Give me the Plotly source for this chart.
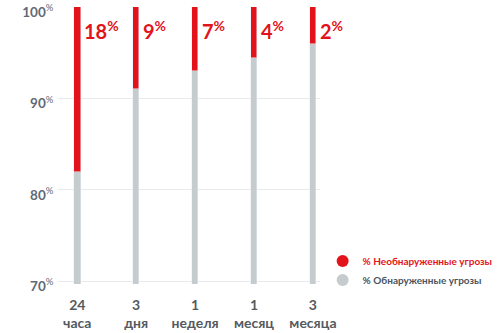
import plotly.graph_objects as go

categories = ["24<br>часа", "3<br>дня", "1<br>неделя", "1<br>месяц", "3<br>месяца"]
detected = [82, 91, 93, 94.5, 96]          # % обнаруженные (top of grey segment)
undetected = [18, 9, 7, 5.5, 4]             # red segment height as drawn
undetected_labels = ["18", "9", "7", "4", "2"]
y_ticks = [70, 80, 90, 100]

RED = "#e3131b"
GREY = "#c6cbce"
FONT = "Lato, 'Open Sans', sans-serif"

xs = list(range(len(categories)))

fig = go.Figure()
fig.add_trace(go.Bar(x=xs, y=detected, marker_color=GREY, width=0.11,
                     showlegend=False, hoverinfo="skip"))
fig.add_trace(go.Bar(x=xs, y=undetected, marker_color=RED, width=0.11,
                     showlegend=False, hoverinfo="skip"))

# legend dummies
fig.add_trace(go.Scatter(x=[None], y=[None], mode="markers",
                         marker=dict(color=RED, size=11, symbol="circle"),
                         name="<b><span style='color:%s'>%% Необнаруженные угрозы</span></b>" % RED))
fig.add_trace(go.Scatter(x=[None], y=[None], mode="markers",
                         marker=dict(color=GREY, size=11, symbol="circle"),
                         name="<b><span style='color:#4a5560'>% Обнаруженные угрозы</span></b>"))

for i, lab in enumerate(undetected_labels):
    fig.add_annotation(x=xs[i], y=100, xref="x", yref="y", xanchor="left", yanchor="top",
                       xshift=5, yshift=-8, showarrow=False,
                       text="<b>%s</b><sup><b>%%</b></sup>" % lab,
                       font=dict(family=FONT, size=20, color=RED))

fig.update_layout(
    barmode="stack",
    width=500, height=333,
    margin=dict(l=58, r=163, t=2, b=48),
    paper_bgcolor="white", plot_bgcolor="white",
    bargap=0,
    legend=dict(x=1.01, y=0.135, xanchor="left", yanchor="top", traceorder="normal",
                font=dict(family=FONT, size=10), tracegroupgap=0,
                itemsizing="constant", itemwidth=30, bgcolor="rgba(0,0,0,0)"),
    font=dict(family=FONT),
)
fig.update_xaxes(range=[-0.327, 4.12], tickmode="array", tickvals=xs, ticktext=["<b>%s</b>" % c for c in categories],
                 tickfont=dict(family=FONT, size=14, color="#555a60"),
                 showgrid=False, zeroline=False, showline=False,
                 ticks="outside", ticklen=8, tickcolor="rgba(0,0,0,0)")
fig.update_yaxes(range=[69.7, 100.03], tickmode="array", tickvals=y_ticks,
                 ticktext=["<b>%d</b><sup>%%</sup>" % v for v in y_ticks],
                 tickfont=dict(family=FONT, size=13.5, color="#5f6a75"),
                 ticklabelshift=5, ticklabeloverflow="allow",
                 showgrid=True, gridcolor="#e8eaec", gridwidth=1, zeroline=False,
                 showline=False, ticks="outside", ticklen=1, tickcolor="rgba(0,0,0,0)")

fig.write_html("out.html")
